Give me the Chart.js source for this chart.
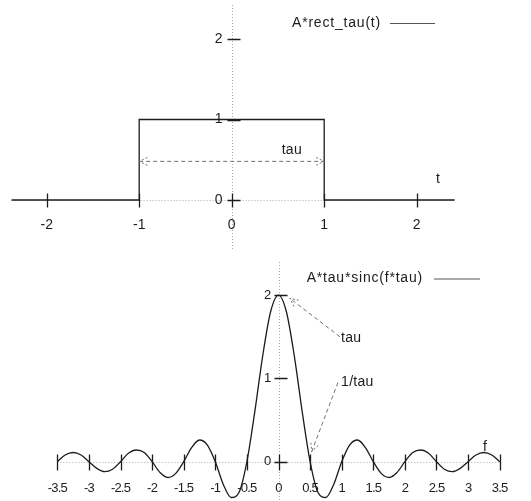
<!DOCTYPE html>
<html lang="en">
<head>
<meta charset="UTF-8">
<title>rect and sinc</title>
<script src="https://cdn.jsdelivr.net/npm/chart.js"></script>
<style>
    body { margin: 0; background: #fff; }
    .plot { position: relative; width: 531px; }
    #topBox { height: 250px; }
    #botBox { height: 251px; }
</style>
</head>
<body>
<div class="plot" id="topBox"><canvas id="rectChart"></canvas></div>
<div class="plot" id="botBox"><canvas id="sincChart"></canvas></div>

<script>
    // top plot: A*rect_tau(t)
    const rectT = [-2.38, -1, -1, 1, 1, 2.41];
    const rectA = [0, 0, 1, 1, 0, 0];
    const rectXTicks = [-2, -1, 0, 1, 2];
    const rectYTicks = [0, 1, 2];

    // bottom plot: A*tau*sinc(f*tau)
    const sincF = [-3.5, -3.375, -3.25, -3.125, -3, -2.875, -2.75, -2.625, -2.5, -2.375, -2.25, -2.125,
                   -2, -1.875, -1.75, -1.625, -1.5, -1.375, -1.25, -1.125, -1, -0.875, -0.75, -0.625,
                   -0.5, -0.375, -0.25, -0.125, 0, 0.125, 0.25, 0.375, 0.5, 0.625, 0.75, 0.875,
                   1, 1.125, 1.25, 1.375, 1.5, 1.625, 1.75, 1.875, 2, 2.125, 2.25, 2.375,
                   2.5, 2.625, 2.75, 2.875, 3, 3.125, 3.25, 3.375, 3.5];
    const sincV = [0, 0.08, 0.11, 0.08, 0, -0.08, -0.12, -0.09, 0, 0.10, 0.14, 0.11,
                   0, -0.13, -0.19, -0.14, 0, 0.17, 0.26, 0.20, 0, -0.27, -0.43, -0.37,
                   0, 0.60, 1.27, 1.80, 2.00, 1.80, 1.27, 0.60, 0, -0.37, -0.43, -0.27,
                   0, 0.20, 0.26, 0.17, 0, -0.14, -0.19, -0.13, 0, 0.11, 0.14, 0.10,
                   0, -0.09, -0.12, -0.08, 0, 0.08, 0.11, 0.08, 0];
    const sincXTicks = [-3.5, -3, -2.5, -2, -1.5, -1, -0.5, 0, 0.5, 1, 1.5, 2, 2.5, 3, 3.5];
    const sincYTicks = [0, 1, 2];

    const FAMILY = '"Liberation Sans", Arial, sans-serif';
    const INK = '#1c1c1c';

    function arrowHead(ctx, x, y, ang) {
        const len = 9, spread = 0.45;
        ctx.beginPath();
        ctx.moveTo(x - len * Math.cos(ang - spread), y - len * Math.sin(ang - spread));
        ctx.lineTo(x, y);
        ctx.lineTo(x - len * Math.cos(ang + spread), y - len * Math.sin(ang + spread));
        ctx.stroke();
    }

    function setFont(ctx, size, spacing) {
        ctx.font = size + 'px ' + FAMILY;
        if ('letterSpacing' in ctx) ctx.letterSpacing = spacing + 'px';
    }

    // gnuplot-like zero axes, ticks, key and arrows; cfg kept in the closure
    function makeLook(o) {
        return {
            id: 'gnuplotLook',
            beforeDatasetsDraw(chart) {
                const ctx = chart.ctx, x = chart.scales.x, y = chart.scales.y;
                const x0 = Math.round(x.getPixelForValue(0)) + 0.5;
                const y0 = Math.round(y.getPixelForValue(0)) + 0.5;
                ctx.save();
                ctx.strokeStyle = '#aaa';
                ctx.lineWidth = 1;
                ctx.setLineDash([1, 2]);
                ctx.beginPath();
                ctx.moveTo(x.getPixelForValue(o.axisFrom), y0);
                ctx.lineTo(x.getPixelForValue(o.axisTo), y0);
                ctx.moveTo(x0, o.vTop);
                ctx.lineTo(x0, o.vBottom);
                ctx.stroke();
                ctx.restore();
            },
            afterDatasetsDraw(chart) {
                const ctx = chart.ctx, x = chart.scales.x, y = chart.scales.y;
                const x0 = Math.round(x.getPixelForValue(0)) + 0.5;
                const y0 = Math.round(y.getPixelForValue(0)) + 0.5;
                ctx.save();
                ctx.strokeStyle = INK;
                ctx.lineWidth = 1.3;
                ctx.fillStyle = INK;

                // tick marks crossing the zero axes
                ctx.beginPath();
                o.xTicks.forEach(v => {
                    const px = Math.round(x.getPixelForValue(v)) + 0.5;
                    ctx.moveTo(px, y0 - o.xTick);
                    ctx.lineTo(px, y0 + o.xTick);
                });
                o.yTicks.forEach(v => {
                    const py = Math.round(y.getPixelForValue(v)) + 0.5;
                    ctx.moveTo(x0 - o.yTick[0], py);
                    ctx.lineTo(x0 + o.yTick[1], py);
                });
                ctx.stroke();

                // tick labels
                setFont(ctx, o.tickSize, o.tickSpacing);
                ctx.textAlign = 'center';
                ctx.textBaseline = 'middle';
                o.xTicks.forEach(v => ctx.fillText(String(v), x.getPixelForValue(v), y0 + o.xLabelGap));
                ctx.textAlign = 'right';
                o.yTicks.forEach(v => ctx.fillText(String(v), x0 - o.yLabelGap, y.getPixelForValue(v)));

                // key
                setFont(ctx, 14, 0.8);
                ctx.textAlign = 'right';
                ctx.fillText(o.keyText, o.keyRight, o.keyY);
                ctx.strokeStyle = '#555';
                ctx.lineWidth = 1;
                ctx.beginPath();
                ctx.moveTo(o.keyLine[0], o.keyY + 0.5);
                ctx.lineTo(o.keyLine[1], o.keyY + 0.5);
                ctx.stroke();

                // labels placed in data coordinates
                setFont(ctx, 14, 0.3);
                o.notes.forEach(n => {
                    ctx.textAlign = n.align;
                    ctx.fillText(n.text, x.getPixelForValue(n.x), y.getPixelForValue(n.y));
                });

                // dashed arrows
                ctx.strokeStyle = '#707070';
                ctx.lineWidth = 1;
                o.arrows.forEach(a => {
                    const ax = x.getPixelForValue(a.from[0]), ay = y.getPixelForValue(a.from[1]);
                    const bx = x.getPixelForValue(a.to[0]), by = y.getPixelForValue(a.to[1]);
                    ctx.setLineDash([4, 3]);
                    ctx.beginPath();
                    ctx.moveTo(ax, ay);
                    ctx.lineTo(bx, by);
                    ctx.stroke();
                    ctx.setLineDash([2, 2]);
                    const ang = Math.atan2(by - ay, bx - ax);
                    arrowHead(ctx, bx, by, ang);
                    if (a.both) arrowHead(ctx, ax, ay, ang + Math.PI);
                });
                ctx.restore();
            }
        };
    }

    function baseOptions(xr, yr, pad) {
        return {
            responsive: true,
            maintainAspectRatio: false,
            animation: false,
            layout: { padding: pad },
            plugins: { legend: { display: false }, tooltip: { enabled: false } },
            scales: {
                x: { type: 'linear', min: xr[0], max: xr[1], display: false },
                y: { type: 'linear', min: yr[0], max: yr[1], display: false }
            }
        };
    }

    new Chart(document.getElementById('rectChart'), {
        type: 'line',
        data: {
            datasets: [{
                label: 'A*rect_tau(t)',
                data: rectT.map((t, i) => ({ x: t, y: rectA[i] })),
                borderColor: INK,
                borderWidth: 1.3,
                pointRadius: 0,
                tension: 0,
                clip: false
            }]
        },
        options: baseOptions([-2.5, 2.5], [-0.6, 2.45], { left: 0.45, right: 68.05, top: 2.8, bottom: 1.7 }),
        plugins: [makeLook({
            axisFrom: -2.38, axisTo: 2.41, vTop: 5, vBottom: 250,
            xTicks: rectXTicks, yTicks: rectYTicks, xTick: 7, yTick: [5, 8],
            tickSize: 14, tickSpacing: 0, xLabelGap: 25, yLabelGap: 10,
            keyText: 'A*rect_tau(t)', keyRight: 381, keyY: 23, keyLine: [390, 435],
            notes: [
                { text: 'tau', x: 0.65, y: 0.62, align: 'center' },
                { text: 't', x: 2.23, y: 0.26, align: 'center' }
            ],
            arrows: [{ from: [-1, 0.48], to: [1, 0.48], both: true }]
        })]
    });

    new Chart(document.getElementById('sincChart'), {
        type: 'line',
        data: {
            datasets: [{
                label: 'A*tau*sinc(f*tau)',
                data: sincF.map((f, i) => ({ x: f, y: sincV[i] })),
                borderColor: INK,
                borderWidth: 1.3,
                pointRadius: 0,
                cubicInterpolationMode: 'monotone',
                clip: false
            }]
        },
        options: baseOptions([-3.5, 3.5], [-0.472, 2.397], { left: 57.3, right: 31.3, top: 12, bottom: 0 }),
        plugins: [makeLook({
            axisFrom: -3.5, axisTo: 3.5, vTop: 12, vBottom: 251,
            xTicks: sincXTicks, yTicks: sincYTicks, xTick: 8, yTick: [5, 8],
            tickSize: 13, tickSpacing: -0.8, xLabelGap: 25.5, yLabelGap: 9,
            keyText: 'A*tau*sinc(f*tau)', keyRight: 423, keyY: 28.5, keyLine: [434, 480],
            notes: [
                { text: 'tau', x: 0.99, y: 1.48, align: 'left' },
                { text: '1/tau', x: 0.99, y: 0.96, align: 'left' },
                { text: 'f', x: 3.27, y: 0.18, align: 'center' }
            ],
            arrows: [
                { from: [0.97, 1.5], to: [0.18, 1.96] },
                { from: [0.94, 0.95], to: [0.525, 0.12] }
            ]
        })]
    });
</script>
</body>
</html>
